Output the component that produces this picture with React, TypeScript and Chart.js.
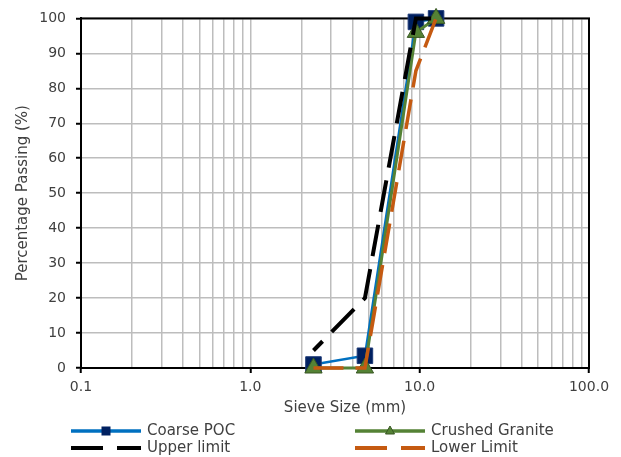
import React, { useEffect, useRef } from 'react';
import { Chart, registerables } from 'chart.js';

Chart.register(...registerables);

// ---- data ----
const sieveSizes = [2.36, 4.75, 9.5, 12.5];
const coarsePOC = [1, 3.5, 99, 100];
const crushedGranite = [0, 0, 96, 100];
const upperLimit = [5, 20, 100, 100];
const lowerLimit = [0, 0, 85, 100];
const seriesNames = ['Coarse POC', 'Crushed Granite', 'Upper limit', 'Lower Limit'];
const xMajorTicks = [0.1, 1, 10, 100];
const xMinorMultipliers = [1, 2, 3, 4, 5, 6, 7, 8, 9];
const yMin = 0;
const yMax = 100;
const yStep = 10;
const xTitle = 'Sieve Size (mm)';
const yTitle = 'Percentage Passing (%)';

// ---- style ----
const FONT = '"DejaVu Sans", sans-serif';
const TEXT = '#404040';
const GRID = '#BDBDBD';
const BLUE = '#0070C0';
const NAVY = '#002060';
const GREEN = '#548235';
const DKGREEN = '#385723';
const ORANGE = '#C55A11';

const isMajor = (v: number) => xMajorTicks.some((m) => Math.abs(m - v) < 1e-9 * Math.max(1, m));

const pts = (ys: number[]) => sieveSizes.map((x, i) => ({ x, y: ys[i] }));

const frameAndLegend = {
  id: 'frameAndLegend',
  beforeDatasetsDraw(chart: any) {
    const { ctx, chartArea: a } = chart;
    ctx.save();
    ctx.strokeStyle = '#000';
    ctx.lineWidth = 2;
    ctx.strokeRect(a.left, a.top, a.right - a.left, a.bottom - a.top);
    ctx.restore();
  },
  afterDraw(chart: any) {
    const { ctx, chartArea: a } = chart;
    ctx.save();
    // x axis title
    ctx.font = `15px ${FONT}`;
    ctx.fillStyle = TEXT;
    ctx.textAlign = 'center';
    ctx.textBaseline = 'middle';
    ctx.fillText(xTitle, (a.left + a.right) / 2 + 10, a.bottom + 40);

    // legend
    const row1 = a.bottom + 63;
    const row2 = a.bottom + 80;
    const col1 = a.left - 10;
    const col2 = a.left + 274;
    const len = 70;
    const items = [
      { name: seriesNames[0], x: col1, y: row1, color: BLUE, w: 3.5, dash: [] as number[], marker: 'rect' },
      { name: seriesNames[1], x: col2, y: row1, color: GREEN, w: 3.5, dash: [] as number[], marker: 'tri' },
      { name: seriesNames[2], x: col1, y: row2, color: '#000', w: 4, dash: [32, 14], marker: '' },
      { name: seriesNames[3], x: col2, y: row2, color: ORANGE, w: 4, dash: [32, 14], marker: '' },
    ];
    for (const it of items) {
      ctx.beginPath();
      ctx.setLineDash(it.dash);
      ctx.lineCap = 'butt';
      ctx.strokeStyle = it.color;
      ctx.lineWidth = it.w;
      ctx.moveTo(it.x, it.y);
      ctx.lineTo(it.x + len, it.y);
      ctx.stroke();
      ctx.setLineDash([]);
      const cx = it.x + len / 2;
      if (it.marker === 'rect') {
        ctx.fillStyle = NAVY;
        ctx.fillRect(cx - 4.5, it.y - 4.5, 9, 9);
      } else if (it.marker === 'tri') {
        ctx.beginPath();
        ctx.moveTo(cx, it.y - 5);
        ctx.lineTo(cx + 4.5, it.y + 3);
        ctx.lineTo(cx - 4.5, it.y + 3);
        ctx.closePath();
        ctx.fillStyle = GREEN;
        ctx.fill();
        ctx.strokeStyle = DKGREEN;
        ctx.lineWidth = 1;
        ctx.stroke();
      }
      ctx.font = `15px ${FONT}`;
      ctx.fillStyle = TEXT;
      ctx.textAlign = 'left';
      ctx.textBaseline = 'middle';
      ctx.fillText(it.name, it.x + len + 6, it.y);
    }
    ctx.restore();
  },
};

export default function App() {
  const ref = useRef<HTMLCanvasElement>(null);

  useEffect(() => {
    if (!ref.current) return;
    const chart = new Chart(ref.current, {
      type: 'line',
      data: {
        datasets: [
          {
            label: seriesNames[0],
            data: pts(coarsePOC),
            borderColor: BLUE,
            borderWidth: 2.5,
            pointStyle: 'rect',
            pointRadius: 11,
            pointBackgroundColor: NAVY,
            pointBorderColor: '#1F3C78',
            pointBorderWidth: 1,
            tension: 0,
            order: 3,
            clip: false,
          } as any,
          {
            label: seriesNames[1],
            data: pts(crushedGranite),
            borderColor: GREEN,
            borderWidth: 3,
            pointStyle: 'triangle',
            pointRadius: 10,
            pointBackgroundColor: GREEN,
            pointBorderColor: DKGREEN,
            pointBorderWidth: 1,
            tension: 0,
            order: 2,
            clip: false,
          },
          {
            label: seriesNames[2],
            data: pts(upperLimit),
            borderColor: '#000',
            borderWidth: 4,
            borderDash: [32, 13],
            borderDashOffset: 19,
            borderCapStyle: 'butt',
            pointRadius: 0,
            tension: 0,
            order: 1,
            clip: false,
          },
          {
            label: seriesNames[3],
            data: pts(lowerLimit),
            borderColor: ORANGE,
            borderWidth: 3.5,
            borderDash: [30, 12],
            borderCapStyle: 'butt',
            pointRadius: 0,
            tension: 0,
            order: 0,
            clip: false,
          },
        ],
      },
      options: {
        responsive: false,
        animation: false,
        events: [],
        layout: { padding: { left: 0, right: 32, top: 17, bottom: 37 } },
        plugins: {
          legend: { display: false },
          tooltip: { enabled: false },
        },
        scales: {
          x: {
            type: 'logarithmic',
            min: xMajorTicks[0],
            max: xMajorTicks[xMajorTicks.length - 1],
            afterBuildTicks: (s: any) => {
              const t: { value: number }[] = [];
              for (let d = 0; d < xMajorTicks.length - 1; d++) {
                for (const m of xMinorMultipliers) t.push({ value: xMajorTicks[d] * m });
              }
              t.push({ value: xMajorTicks[xMajorTicks.length - 1] });
              s.ticks = t;
            },
            afterFit: (s: any) => {
              s.height = 52;
            },
            ticks: {
              autoSkip: false,
              maxRotation: 0,
              padding: 6,
              color: TEXT,
              font: { family: FONT, size: 14 },
              callback: (v: any) => (isMajor(Number(v)) ? Number(v).toFixed(1) : ''),
            },
            grid: {
              color: GRID,
              lineWidth: 1.5,
              tickLength: 5,
              tickWidth: 2,
              tickColor: (c: any) => (c.tick && isMajor(c.tick.value) ? '#000' : 'rgba(0,0,0,0)'),
            },
            border: { color: '#000', width: 2 },
            title: { display: false },
          },
          y: {
            min: yMin,
            max: yMax,
            afterFit: (s: any) => {
              s.width = 81;
            },
            ticks: {
              stepSize: yStep,
              padding: 10,
              color: TEXT,
              font: { family: FONT, size: 14 },
            },
            grid: {
              color: GRID,
              lineWidth: 1.5,
              tickLength: 5,
              tickWidth: 2,
              tickColor: '#000',
            },
            border: { color: '#000', width: 2 },
            title: {
              display: true,
              text: yTitle,
              color: TEXT,
              font: { family: FONT, size: 15 },
              padding: { top: 14, bottom: 0 },
            },
          },
        },
      },
      plugins: [frameAndLegend],
    });
    return () => chart.destroy();
  }, []);

  return (
    <div style={{ position: 'fixed', left: 0, top: 0, width: 621, height: 457, background: '#fff' }}>
      <canvas ref={ref} width={621} height={457} style={{ display: 'block' }} />
    </div>
  );
}
